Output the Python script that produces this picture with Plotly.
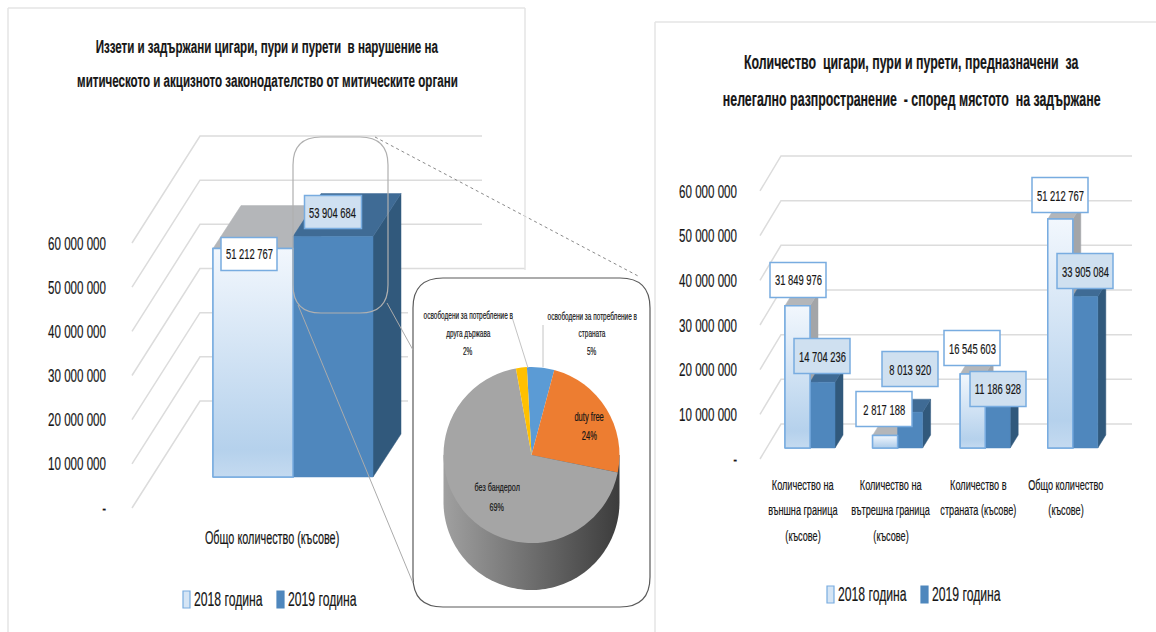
import numpy as np
import plotly.graph_objects as go

W, H = 1156, 632
FONT = "Liberation Sans, sans-serif"
INK = "#161616"

# ---------- data ----------
SERIES = ["2018 година", "2019 година"]
LEFT_CATEGORY = ["Общо количество (късове)"]
LEFT_2018 = [51212767]
LEFT_2019 = [53904684]
RIGHT_CATEGORIES = [
    ["Количество на", "външна граница", "(късове)"],
    ["Количество на", "вътрешна граница", "(късове)"],
    ["Количество в", "страната (късове)"],
    ["Общо количество", "(късове)"],
]
RIGHT_2018 = [31849976, 2817188, 16545603, 51212767]
RIGHT_2019 = [14704236, 8013920, 11186928, 33905084]
TICK_VALUES = [0, 10000000, 20000000, 30000000, 40000000, 50000000, 60000000]
TICK_LABELS = ["-", "10 000 000", "20 000 000", "30 000 000", "40 000 000", "50 000 000", "60 000 000"]
PIE_LABELS = ["освободени за потребление в страната", "duty free", "без бандерол",
              "освободени за потребление в друга държава"]
PIE_VALUES = [5, 24, 69, 2]
TITLE_LEFT = ["Иззети и задържани цигари, пури и пурети  в нарушение на",
              "митическото и акцизното законодателство от митическите органи"]
TITLE_RIGHT = ["Количество  цигари, пури и пурети, предназначени  за",
               "нелегално разпространение  - според мястото  на задържане"]

# ---------- styling ----------
C19, C19_TOP, C19_SIDE = "#4f87bd", "#3f6b95", "#31597c"
C18_TOP, C18_SIDE = "#b4b6b9", "#a3a5a8"
EDGE = "#78ace0"
GRID = "#dcdcdc"
GRAD18 = [[0, "#c4daf0"], [0.12, "#b5d1ec"], [1, "#f2f7fd"]]
PIE_COLORS = ["#5b9bd5", "#ed7d31", "#a5a5a5", "#ffc000"]
SQUEEZE = 0.61  # the reference's lettering is a horizontally condensed face


def vrange(zero_px, px_per_10m):
    return [-(H - zero_px) / px_per_10m * 1e7, zero_px / px_per_10m * 1e7]


def xrange_(zero_px, px_per_unit):
    return [-zero_px / px_per_unit, (W - zero_px) / px_per_unit]


def spaced(v):
    return f"{v:,}".replace(",", " ")


fig = go.Figure()
NOHOV = dict(hoverinfo="skip", showlegend=False)

L_TICK = dict(zero=508, scale=44.17)
R_TICK = dict(zero=459, scale=44.67)
L_BAR = dict(zero=477, scale=44.6, cx=293, unit=160, width=0.5, dx=28, dy=43)
R_BAR = dict(zero=448, scale=44.7, cx=810, unit=87.6, width=25.0 / 87.6, dx=8, dy=13)


# gridlines: x axis in pixels, y axis in value units
def add_grid(xa, ya, cfg, x_front, dx, dy, ends):
    for v, end in zip(TICK_VALUES, ends):
        lift = dy / cfg["scale"] * 1e7
        fig.add_trace(go.Scatter(x=[x_front, x_front + dx, end], y=[v, v + lift, v + lift],
                                 mode="lines", line=dict(color=GRID, width=1.5),
                                 xaxis=xa, yaxis=ya, **NOHOV))


add_grid("x", "y", L_TICK, 132, 68, 107, [408, 408, 408, 525, 482, 482, 482])
add_grid("x2", "y2", R_TICK, 760, 21, 35, [1132] * 7)


# depth faces
def add_depth(xa, ya, cfg, vals18, vals19):
    dxu = cfg["dx"] / cfg["unit"]
    dyv = cfg["dy"] / cfg["scale"] * 1e7
    w = cfg["width"]
    for s, vals in enumerate([vals18, vals19]):
        top_c = C18_TOP if s == 0 else C19_TOP
        side_c = C18_SIDE if s == 0 else C19_SIDE
        for i, v in enumerate(vals):
            xl = i - w + s * w
            xr = xl + w
            fig.add_trace(go.Scatter(x=[xr, xr + dxu, xr + dxu, xr, xr], y=[0, dyv, v + dyv, v, 0],
                                     fill="toself", fillcolor=side_c, mode="lines",
                                     line=dict(color=side_c, width=0.5), xaxis=xa, yaxis=ya, **NOHOV))
            fig.add_trace(go.Scatter(x=[xl, xl + dxu, xr + dxu, xr, xl], y=[v, v + dyv, v + dyv, v, v],
                                     fill="toself", fillcolor=top_c, mode="lines",
                                     line=dict(color=top_c, width=0.5), xaxis=xa, yaxis=ya, **NOHOV))


add_depth("x3", "y3", L_BAR, LEFT_2018, LEFT_2019)
add_depth("x4", "y4", R_BAR, RIGHT_2018, RIGHT_2019)


# front faces: real bars plus a gradient skin on 2018
def add_front(xa, ya, cfg, cats, vals18, vals19):
    idx = list(range(len(cats)))
    w = cfg["width"]
    fig.add_trace(go.Bar(x=idx, y=vals18, width=w, offset=-w, name=SERIES[0], xaxis=xa, yaxis=ya,
                         marker=dict(color="#cfe1f3", line=dict(color=EDGE, width=1.5)), **NOHOV))
    fig.add_trace(go.Bar(x=idx, y=vals19, width=w, offset=0, name=SERIES[1], xaxis=xa, yaxis=ya,
                         marker=dict(color=C19, line=dict(color=C19, width=0.5)), **NOHOV))
    for i, v in zip(idx, vals18):
        fig.add_trace(go.Scatter(x=[i - w, i, i, i - w, i - w], y=[0, 0, v, v, 0], fill="toself",
                                 mode="lines", line=dict(color=EDGE, width=1.5),
                                 fillgradient=dict(type="vertical", colorscale=GRAD18),
                                 xaxis=xa, yaxis=ya, **NOHOV))


add_front("x5", "y5", L_BAR, LEFT_CATEGORY, LEFT_2018, LEFT_2019)
add_front("x6", "y6", R_BAR, RIGHT_CATEGORIES, RIGHT_2018, RIGHT_2019)

# pie body (the extruded rim)
PIE_CX, PIE_CY, PIE_R, PIE_DEPTH = 531.5, 455, 88, 47
t = np.linspace(np.pi, 0, 90)
rim_x = np.concatenate([[PIE_CX - PIE_R], PIE_CX + PIE_R * np.cos(t), [PIE_CX + PIE_R, PIE_CX - PIE_R]])
rim_y = np.concatenate([[PIE_CY], PIE_CY + PIE_DEPTH + PIE_R * np.sin(t), [PIE_CY, PIE_CY]])
fig.add_trace(go.Scatter(x=rim_x, y=rim_y, fill="toself", mode="none", xaxis="x7", yaxis="y7",
                         fillgradient=dict(type="horizontal",
                                           colorscale=[[0, "#a0a0a0"], [0.45, "#737373"], [1, "#3c3c3c"]]),
                         **NOHOV))

fig.add_trace(go.Pie(labels=PIE_LABELS, values=PIE_VALUES, sort=False, direction="clockwise", rotation=-3,
                     marker=dict(colors=PIE_COLORS, line=dict(width=0)), textinfo="none", hoverinfo="skip",
                     showlegend=False,
                     domain=dict(x=[(PIE_CX - PIE_R) / W, (PIE_CX + PIE_R) / W],
                                 y=[1 - (PIE_CY + PIE_R) / H, 1 - (PIE_CY - PIE_R) / H])))

# ---------- axes ----------
hidden = dict(visible=False, domain=[0, 1], fixedrange=True)
layout_axes = {}
pix_x = [0, W]
x_ranges = {1: pix_x, 2: pix_x, 3: xrange_(L_BAR["cx"], L_BAR["unit"]), 4: xrange_(R_BAR["cx"], R_BAR["unit"]),
            5: xrange_(L_BAR["cx"], L_BAR["unit"]), 6: xrange_(R_BAR["cx"], R_BAR["unit"]), 7: pix_x}
y_ranges = {1: vrange(L_TICK["zero"], L_TICK["scale"]), 2: vrange(R_TICK["zero"], R_TICK["scale"]),
            3: vrange(L_BAR["zero"], L_BAR["scale"]), 4: vrange(R_BAR["zero"], R_BAR["scale"]),
            5: vrange(L_BAR["zero"], L_BAR["scale"]), 6: vrange(R_BAR["zero"], R_BAR["scale"]), 7: [H, 0]}
for n in range(1, 8):
    sx = "" if n == 1 else str(n)
    layout_axes[f"xaxis{sx}"] = dict(hidden, range=x_ranges[n], anchor=f"y{sx}")
    layout_axes[f"yaxis{sx}"] = dict(hidden, range=y_ranges[n], anchor=f"x{sx}")
for n, pos in [(1, 106), (2, 737)]:
    sx = "" if n == 1 else str(n)
    layout_axes[f"yaxis{sx}"] = dict(domain=[0, 1], range=y_ranges[n], anchor="free", position=pos / W, side="left",
                                     tickmode="array", tickvals=TICK_VALUES, ticktext=TICK_LABELS,
                                     showgrid=False, zeroline=False, showline=False, ticks="", fixedrange=True,
                                     tickfont=dict(family=FONT, size=19, color=INK))

# ---------- text helpers ----------
annotations = []
shapes = []


def text(s, x, y, size, anchor="center", weight="normal", color=INK):
    annotations.append(dict(text=s, xref="paper", yref="paper", x=x / W, y=1 - y / H, xanchor=anchor, yanchor="middle",
                            showarrow=False, font=dict(family=FONT, size=size, color=color, weight=weight)))


def rect(x0, y0, x1, y1, fill, line, width=1.2):
    shapes.append(dict(type="rect", xref="x7", yref="y7", x0=x0, y0=y0, x1=x1, y1=y1, fillcolor=fill,
                       line=dict(color=line, width=width), layer="above"))


def box(v, cx, cy, w, h, bg):
    rect(cx - w / 2, cy - h / 2, cx + w / 2, cy + h / 2, bg, EDGE, 1.5)
    text(spaced(v), cx, cy, 15.4)


for y, line in zip([47, 80], TITLE_LEFT):
    text(line, 267, y, 19, weight="bold")
for y, line in zip([62, 99], TITLE_RIGHT):
    text(line, 911, y, 20.3, weight="bold")

text(LEFT_CATEGORY[0], 272, 538, 17.8)
for i, lines in enumerate(RIGHT_CATEGORIES):
    cx = R_BAR["cx"] - 7 + i * R_BAR["unit"]
    for j, line in enumerate(lines):
        text(line, cx, 484 + j * 25.5, 15)

# value labels
B18, B19 = "#ffffff", "#cfe0f0"
box(LEFT_2018[0], 249, 254, 56, 33, B18)
box(LEFT_2019[0], 333, 212, 57, 33, "#cfe0f1")
R_BOX_18 = [(798, 280), (884, 409), (972, 348), (1060, 195)]
R_BOX_19 = [(822, 356), (910, 369), (998, 389), (1085, 271)]
for v, (cx, cy) in zip(RIGHT_2019, R_BOX_19):
    box(v, cx, cy, 56, 35, B19)
for v, (cx, cy) in zip(RIGHT_2018, R_BOX_18):
    box(v, cx, cy, 56, 35, B18)

# pie labels
for y, line in zip([315, 333, 351], ["освободени за потребление в", "друга държава", "2%"]):
    text(line, 468, y, 10.6)
for y, line in zip([316, 333, 351], ["освободени за потребление в", "страната", "5%"]):
    text(line, 592, y, 10.6)
for y, line in zip([417, 436], ["duty free", "24%"]):
    text(line, 589, y, 12.4)
for y, line in zip([487, 507], ["без бандерол", "69%"]):
    text(line, 497, y, 11.8)


# legends
def legend(x1, x2, y):
    rect(x1, y - 8, x1 + 7, y + 9, "#d5e5f5", EDGE)
    rect(x2, y - 8, x2 + 7, y + 9, C19, C19)
    text(SERIES[0], x1 + 45, y, 20)
    text(SERIES[1], x2 + 45, y, 20)


legend(183, 277, 599)
legend(827, 921, 594)


# frames and callouts
def rounded(x0, y0, x1, y1, r):
    return (f"M{x0+r},{y0}L{x1-r},{y0}Q{x1},{y0} {x1},{y0+r}L{x1},{y1-r}Q{x1},{y1} {x1-r},{y1}"
            f"L{x0+r},{y1}Q{x0},{y1} {x0},{y1-r}L{x0},{y0+r}Q{x0},{y0} {x0+r},{y0}Z")


shapes.append(dict(type="path", xref="x7", yref="y7", path=rounded(293, 137, 388, 313, 28),
                   line=dict(color="#b0b0b0", width=1.2), layer="above"))
shapes.append(dict(type="path", xref="x7", yref="y7", path=rounded(413, 278, 650, 607, 30),
                   line=dict(color="#5a5a5a", width=1.2), layer="above"))


def seg(x0, y0, x1, y1, color="#ababab", width=1, dash="solid"):
    shapes.append(dict(type="line", xref="x7", yref="y7", x0=x0, y0=y0, x1=x1, y1=y1,
                       line=dict(color=color, width=width, dash=dash), layer="above"))


seg(375, 137, 640, 277, color="#8a8a8a", dash="dot")
seg(387, 303, 413, 350)
seg(298, 305, 413, 583)
seg(512, 317, 528, 368, color="#c4c4c4")
seg(543, 325, 543, 367, color="#c4c4c4")
# panel frames
seg(8, 8, 8, 632, color="#e4e4e4", width=1.5)
seg(8, 8, 525, 8, color="#e4e4e4", width=1.5)
seg(525, 8, 525, 270, color="#e4e4e4", width=1.5)
seg(655, 22, 655, 632, color="#e4e4e4", width=1.5)
seg(655, 22, 1156, 22, color="#e4e4e4", width=1.5)

fig.update_layout(width=W, height=H, autosize=False, margin=dict(l=0, r=0, t=0, b=0), paper_bgcolor="white",
                  plot_bgcolor="rgba(0,0,0,0)", barmode="overlay", showlegend=False, shapes=shapes,
                  annotations=annotations, **layout_axes)

SQUEEZE_JS = """
document.body.style.margin='0';document.body.style.overflow='hidden';
document.querySelectorAll('.annotation-text, .ytick text, .y2tick text').forEach(function(t){
  var x=parseFloat(t.getAttribute('x'))||0, old=t.getAttribute('transform')||'';
  t.setAttribute('transform',old+' translate('+x+',0) scale(%s,1) translate('+(-x)+',0)');
  t.style.stroke='%s'; t.style.strokeWidth='0.2px';
});
""" % (SQUEEZE, INK)
fig.write_html("out.html", config={"displayModeBar": False}, post_script=SQUEEZE_JS)
